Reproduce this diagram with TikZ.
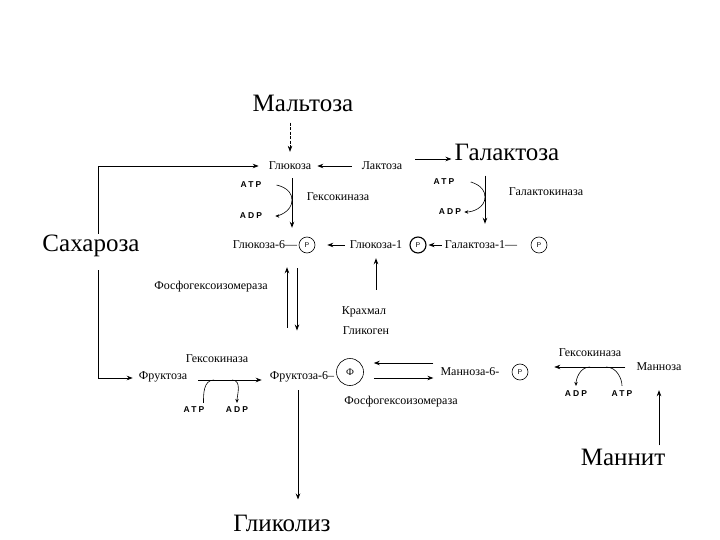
\documentclass[tikz,border=0pt]{standalone}
\usepackage{fontspec}
\setmainfont{Liberation Serif}
\newfontfamily\nucfont[LetterSpace=25]{Liberation Sans}
\usetikzlibrary{arrows.meta, positioning}

\begin{document}
\begin{tikzpicture}[
    x=1pt, y=-1pt,
    big/.style={font=\fontsize{25}{27}\selectfont, inner sep=1pt},
    lbl/.style={font=\fontsize{12}{13}\selectfont, inner sep=1pt},
    nuc/.style={font=\nucfont\bfseries\fontsize{8.5}{9}\selectfont, inner sep=1pt},
    phos/.style={draw, circle, minimum size=16pt, inner sep=0pt, line width=0.6pt,
                 font=\sffamily\fontsize{7}{8}\selectfont},
    arr/.style={-{Stealth[length=6pt, width=4.5pt]}, line width=0.8pt},
    side/.style={line width=0.6pt},
    tip/.style={-{Stealth[length=4pt, width=3.5pt]}},
    >=Stealth
  ]
  \useasboundingbox (0,0) rectangle (720,540);

  % Sugars
  \node[big] (maltose) at (303,103) {Мальтоза};
  \node[big] (galactose) at (507,152) {Галактоза};
  \node[big] (sucrose) at (91,246) {Сахароза};
  \node[big] (mannitol) at (623,457) {Маннит};
  \node[big] (glycolysis) at (282,523) {Гликолиз};

  % Top row
  \node[lbl] (glucose) at (290,166) {Глюкоза};
  \node[lbl] (lactose) at (382,166) {Лактоза};
  \node[lbl] (hk1) at (338,197) {Гексокиназа};
  \node[nuc] (atp1) at (251,185) {ATP};
  \node[nuc] (adp1) at (251,216) {ADP};
  \node[lbl] (galk) at (546,192) {Галактокиназа};
  \node[nuc] (atp2) at (444,182) {ATP};
  \node[nuc] (adp2) at (450,212) {ADP};

  % Phosphate row
  \node[lbl] (g6p) at (265,245) {Глюкоза-6—};
  \node[phos] (p1) at (307,245) {P};
  \node[lbl] (g1p) at (376,245) {Глюкоза-1};
  \node[phos, line width=1.1pt] (p2) at (418,245) {P};
  \node[lbl] (gal1p) at (481,245) {Галактоза-1—};
  \node[phos] (p3) at (539,245) {P};

  % Middle
  \node[lbl] (pgi1) at (211,287) {Фосфогексоизомераза};
  \node[lbl] (starch) at (364,312) {Крахмал};
  \node[lbl] (glycogen) at (366,331) {Гликоген};

  % Fructose row
  \node[lbl] (fructose) at (163,377) {Фруктоза};
  \node[lbl] (hk2) at (217,359) {Гексокиназа};
  \node[nuc] (atp3) at (194,410) {ATP};
  \node[nuc] (adp3) at (237,410) {ADP};
  \node[lbl] (f6p) at (302,377) {Фруктоза-6–};
  \node[phos, minimum size=27pt, font=\fontsize{10}{11}\selectfont] (p4) at (350,372) {Ф};
  \node[lbl] (m6p) at (470,372) {Манноза-6-};
  \node[phos] (p5) at (520,372) {P};
  \node[lbl] (pgi2) at (401,402) {Фосфогексоизомераза};
  \node[lbl] (mannose) at (659,367) {Манноза};
  \node[lbl] (hk3) at (590,353) {Гексокиназа};
  \node[nuc] (adp4) at (576,394) {ADP};
  \node[nuc] (atp4) at (622,394) {ATP};

  % Points on the reaction lines
  \coordinate (hk1c) at (292,200);
  \coordinate (gkc) at (485,197);
  \coordinate (hk2a) at (214,380);
  \coordinate (hk2b) at (232,380);
  \coordinate (hk3a) at (590,367);
  \coordinate (hk3b) at (606,367);

  % Arrows into glucose
  \draw[arr, line width=0.6pt, dash pattern=on 3pt off 1.5pt, shorten <=10pt, shorten >=9pt]
    (maltose.south -| glucose.north) -- (glucose.north);
  \draw[arr, shorten <=9pt, shorten >=5pt] (lactose.west) -- (glucose.east);
  \draw[arr, shorten <=12pt, shorten >=2pt]
    ([yshift=7pt]lactose.east) -- ([yshift=7pt]lactose.east -| galactose.west);
  \draw[arr, shorten >=9pt] ([xshift=7pt]sucrose.north) |- (glucose.west);
  \draw[arr, shorten <=12pt, shorten >=5pt] ([xshift=7pt]sucrose.south) |- ([yshift=-1pt]fructose.west);

  % Glucose -> glucose-6-P
  \draw[arr, shorten <=7pt, shorten >=12pt]
    ([xshift=2pt]glucose.south) -- ([xshift=2pt]glucose.south |- g6p.north);
  \draw[side, tip, shorten <=14pt, shorten >=12pt]
    (atp1.east) to[out=0, in=90] (hk1c) to[out=-90, in=0] (adp1.east);

  % Galactose -> galactose-1-P
  \draw[arr, shorten <=14pt, shorten >=16pt]
    ([xshift=-22pt]galactose.south) -- ([xshift=-22pt]galactose.south |- gal1p.north);
  \draw[side, tip, shorten <=16pt, shorten >=2pt]
    (atp2.east) to[out=0, in=90] (gkc) to[out=-90, in=0] (adp2.east);

  % Phosphate row
  \draw[arr, shorten <=4pt, shorten >=12pt] (g1p.west) -- (p1.east);
  \draw[arr, shorten <=2pt, shorten >=2pt] (gal1p.west) -- (p2.east);
  \draw[arr, shorten <=16pt, shorten >=8pt] (starch.north -| g1p.south) -- (g1p.south);

  % Glucose-6-P <-> fructose-6-P
  \draw[arr, shorten <=43pt, shorten >=17pt]
    ([xshift=22pt]g6p.south |- f6p.north) -- ([xshift=22pt]g6p.south);
  \draw[arr, shorten <=18pt, shorten >=40pt]
    ([xshift=32pt]g6p.south) -- ([xshift=32pt]g6p.south |- f6p.north);

  % Fructose -> fructose-6-P
  \draw[arr, shorten <=10pt, shorten >=7pt] ([yshift=-3pt]fructose.east) -- ([yshift=-3pt]f6p.west);
  \draw[side, shorten <=3pt] ([xshift=-2pt]atp3.north east) to[out=90, in=180] (hk2a);
  \draw[side, tip, shorten >=3pt] (hk2b) to[out=0, in=90] (adp3.north);

  % Fructose-6-P -> glycolysis
  \draw[arr, shorten <=7pt, shorten >=14pt]
    ([xshift=-4pt]f6p.south) -- ([xshift=-4pt]f6p.south |- glycolysis.north);

  % Fructose-6-P <-> mannose-6-P
  \draw[arr, shorten <=6pt, shorten >=10pt] ([yshift=9pt]m6p.west) -- ([yshift=9pt]m6p.west -| p4.east);
  \draw[arr, shorten <=10pt, shorten >=6pt] ([yshift=-6pt]m6p.west -| p4.east) -- ([yshift=-6pt]m6p.west);

  % Mannose -> mannose-6-P
  \draw[arr, line width=0.6pt, shorten <=10pt, shorten >=26pt] (mannose.west) -- (mannose.west -| p5.east);
  \draw[side, tip, shorten >=4pt] (hk3a) to[out=180, in=90] (adp4.north);
  \draw[side, shorten >=4pt] (hk3b) to[out=0, in=90] (atp4.north);
  \draw[arr, shorten <=2pt, shorten >=18pt] (mannitol.north -| mannose.south) -- (mannose.south);

\end{tikzpicture}
\end{document}
